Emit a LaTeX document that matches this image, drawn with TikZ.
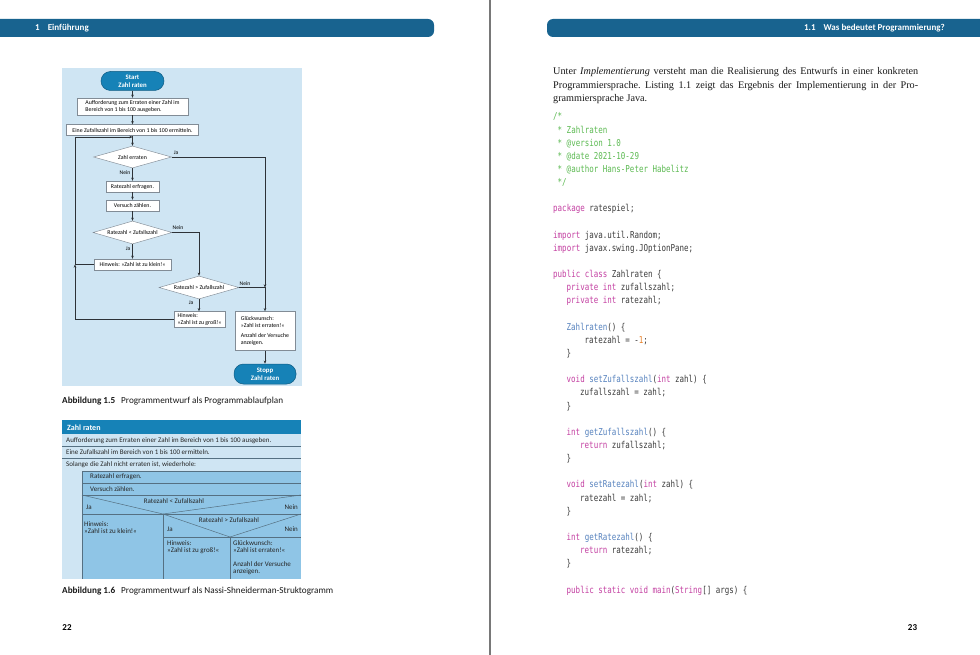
\documentclass[tikz,border=0pt]{standalone}
\usepackage{fontspec}
\setmainfont{Liberation Serif}
\newfontfamily\figfont{Carlito}
\newfontfamily\codefont[FakeStretch=0.79]{DejaVu Sans Mono}
\usetikzlibrary{shapes.geometric,arrows.meta}
\definecolor{headblue}{RGB}{24,99,143}
\definecolor{bgblue}{RGB}{207,229,243}
\definecolor{termblue}{RGB}{22,130,183}
\definecolor{termdark}{RGB}{14,92,132}
\definecolor{fcborder}{RGB}{130,140,150}
\definecolor{linecol}{RGB}{45,50,55}
\definecolor{nsmid}{RGB}{143,197,230}
\definecolor{nsline}{RGB}{85,112,130}
\definecolor{cgreen}{RGB}{92,186,82}
\definecolor{ckey}{RGB}{196,64,162}
\definecolor{cfun}{RGB}{86,130,190}
\definecolor{ctext}{RGB}{60,60,60}
\definecolor{cnum}{RGB}{232,128,40}
\definecolor{spine}{RGB}{120,120,120}
\newcommand\fcsmall{\figfont\fontsize{5.85}{7.2}\selectfont}
\newcommand\fclabel{\figfont\fontsize{5.6}{6.5}\selectfont}
\newcommand\nsfont{\figfont\fontsize{7}{7.3}\selectfont}
\newcommand\capfont{\figfont\fontsize{9.2}{11}\selectfont}
\newcommand\cKw[1]{\textcolor{ckey}{#1}}
\newcommand\cFn[1]{\textcolor{cfun}{#1}}
\newcommand\cCm[1]{\textcolor{cgreen}{#1}}
\newcommand\cNum[1]{\textcolor{cnum}{#1}}
\newcommand\codeln[3]{\node[codest] (cl#1) at (#2,{120+13.14*#1}) {#3};}
\frenchspacing
\begin{document}
\begin{tikzpicture}[x=1pt,y=-1pt,
  fcbox/.style={draw=fcborder, fill=white, line width=0.45pt, inner sep=0pt, font=\fcsmall, align=left},
  fcdia/.style={diamond, draw=fcborder, fill=white, line width=0.45pt, inner sep=0pt, font=\fcsmall, aspect=3.4},
  term/.style={draw=termdark, fill=termblue, line width=0.5pt, rounded corners=9.5pt, text=white, font=\figfont\bfseries\fontsize{6.8}{8}\selectfont, align=center, inner sep=0pt},
  lnk/.style={draw=linecol, line width=0.6pt},
  arr/.style={lnk, -{Stealth[length=3.2pt,width=2.6pt]}},
  lbl/.style={font=\fclabel, inner sep=0pt},
  nstext/.style={font=\nsfont, inner sep=0pt, text=black!85},
  nsl/.style={draw=nsline, line width=0.5pt},
  codest/.style={anchor=base west, inner sep=0pt, font=\codefont\fontsize{9.5}{10}\selectfont, text=ctext},
  paraln/.style={anchor=base west, inner sep=0pt, font=\fontsize{10.2}{12}\selectfont, text=black!90},
  headtxt/.style={text=white, inner sep=0pt, font=\figfont\bfseries\fontsize{9}{10}\selectfont},
  capt/.style={anchor=base west, inner sep=0pt, font=\capfont, text=black!90}
]
\useasboundingbox (0,0) rectangle (980,655);
\fill[white] (0,0) rectangle (980,655);
% headers
\fill[headblue, rounded corners=6pt] (-20,19) rectangle (434,37);
\fill[headblue, rounded corners=6pt] (547,19) rectangle (1000,37);
\node[headtxt, anchor=west] (h1) at (35,28) {1\hspace{8pt}Einführung};
\node[headtxt, anchor=east] (h2) at (945,28) {1.1\hspace{8pt}Was bedeutet Programmierung?};
% spine
\draw[spine, line width=1.4pt] (490,0) -- (490,655);
% page numbers
\node[anchor=base, inner sep=0pt, font=\figfont\bfseries\fontsize{9}{10}\selectfont] (pn1) at (67,630) {22};
\node[anchor=base, inner sep=0pt, font=\figfont\bfseries\fontsize{9}{10}\selectfont] (pn2) at (912.5,630) {23};

% ===== flowchart =====
\fill[bgblue] (62,68) rectangle (302,386);
\node[term, minimum width=63pt, minimum height=19pt] (start) at (132.5,81) {Start\\Zahl raten};
\node[fcbox, minimum width=111pt, minimum height=17pt] (b1) at (132.5,106.5) {Aufforderung zum Erraten einer Zahl im\\Bereich von 1 bis 100 ausgeben.};
\node[fcbox, minimum width=132pt, minimum height=11pt] (b2) at (132.5,130) {Eine Zufallszahl im Bereich von 1 bis 100 ermitteln.};
\node[fcdia, minimum width=78pt, minimum height=22pt] (d1) at (132.5,157) {Zahl erraten};
\node[fcbox, minimum width=53pt, minimum height=11pt] (b3) at (132.5,186.5) {Ratezahl erfragen.};
\node[fcbox, minimum width=53pt, minimum height=11pt] (b4) at (132.5,205.5) {Versuch zählen.};
\node[fcdia, minimum width=79pt, minimum height=23pt] (d2) at (132.5,232.5) {Ratezahl < Zufallszahl};
\node[fcbox, minimum width=77pt, minimum height=11pt] (b5) at (132.5,264.5) {Hinweis: »Zahl ist zu klein!«};
\node[fcdia, minimum width=80pt, minimum height=23pt] (d3) at (199,287.5) {Ratezahl > Zufallszahl};
\node[fcbox, minimum width=51pt, minimum height=16pt] (b6) at (199.5,319.5) {Hinweis:\\»Zahl ist zu groß!«};
\node[fcbox, minimum width=60pt, minimum height=39pt] (b7) at (265,331) {Glückwunsch:\\»Zahl ist erraten!«\\[3pt]Anzahl der Versuche\\anzeigen.};
\node[term, minimum width=62pt, minimum height=20pt] (stop) at (265,374) {Stopp\\Zahl raten};
\coordinate (J) at (132.5,137);
\coordinate (L) at (75,137);
\coordinate (R) at (265,287.5);
\draw[arr] (start) -- (b1);
\draw[arr] (b1) -- (b2);
\draw[arr] (b2) -- (d1);
\draw[arr] (d1) -- (b3);
\draw[arr] (b3) -- (b4);
\draw[arr] (b4) -- (d2);
\draw[arr] (d2) -- (b5);
\draw[arr] (d2.east) -| (d3.north);
\draw[arr] (d3) -- (b6.north -| d3);
\draw[arr] (b5.west) -- (b5.west -| L) -- (L) -- (J);
\draw[arr] (b6.west) -- (b6.west -| L) -- (b5.west -| L);
\draw[arr] (d1.east) -| (R);
\draw[arr] (d3.east) -- (R) -- (b7.north);
\draw[arr] (b7) -- (stop);
\node[lbl] (l1) at (176,153) {Ja};
\node[lbl] (l2) at (125,173) {Nein};
\node[lbl] (l3) at (178,228) {Nein};
\node[lbl] (l4) at (128,249) {Ja};
\node[lbl] (l5) at (245,284) {Nein};
\node[lbl] (l6) at (191,303) {Ja};
\node[capt] (cap1) at (62,403) {\textbf{Abbildung 1.5}\hspace{6pt}Programmentwurf als Programmablaufplan};

% ===== Nassi-Shneiderman =====
\fill[bgblue] (62,420) rectangle (301,579);
\fill[termblue] (62,420) rectangle (301,434);
\node[anchor=west, inner sep=0pt, text=white, font=\figfont\bfseries\fontsize{8}{9}\selectfont] (nsh) at (67,427.5) {Zahl raten};
\draw[nsl] (62,446) -- (301,446);
\draw[nsl] (62,458) -- (301,458);
\fill[nsmid] (82,471) rectangle (301,579);
\draw[nsl] (82,579) -- (82,471) -- (301,471);
\draw[nsl] (82,483) -- (301,483);
\draw[nsl] (82,495) -- (301,495);
\draw[nsl] (82,514) -- (301,514);
\draw[nsl] (82,495) -- (163,514) -- (301,495);
\draw[nsl] (163,514) -- (163,579);
\draw[nsl] (163,537) -- (301,537);
\draw[nsl] (163,514) -- (230,537) -- (301,514);
\draw[nsl] (230,537) -- (230,579);
\node[nstext, anchor=west] (n1) at (66,440.5) {Aufforderung zum Erraten einer Zahl im Bereich von 1 bis 100 ausgeben.};
\node[nstext, anchor=west] (n2) at (66,452.5) {Eine Zufallszahl im Bereich von 1 bis 100 ermitteln.};
\node[nstext, anchor=west] (n3) at (66,465) {Solange die Zahl nicht erraten ist, wiederhole:};
\node[nstext, anchor=west] (n4) at (90,477) {Ratezahl erfragen.};
\node[nstext, anchor=west] (n5) at (90,489) {Versuch zählen.};
\node[nstext] (n6) at (174,501) {Ratezahl < Zufallszahl};
\node[nstext, anchor=west] (n7) at (86,507) {Ja};
\node[nstext, anchor=east] (n8) at (298,507) {Nein};
\node[nstext, anchor=north west, align=left] (n9) at (84,521) {Hinweis:\\»Zahl ist zu klein!«};
\node[nstext] (n10) at (229,520) {Ratezahl > Zufallszahl};
\node[nstext, anchor=west] (n11) at (167,529) {Ja};
\node[nstext, anchor=east] (n12) at (298,529) {Nein};
\node[nstext, anchor=north west, align=left] (n13) at (167,540) {Hinweis:\\»Zahl ist zu groß!«};
\node[nstext, anchor=north west, align=left] (n14) at (233,540) {Glückwunsch:\\»Zahl ist erraten!«\\[7pt]Anzahl der Versuche\\anzeigen.};
\node[capt] (cap2) at (62,593) {\textbf{Abbildung 1.6}\hspace{6pt}Programmentwurf als Nassi-Shneiderman-Struktogramm};

% ===== right page text =====
\node[paraln] (p1) at (553,75) {\makebox[365pt][s]{Unter \textit{Implementierung} versteht man die Realisierung des Entwurfs in einer konkreten}};
\node[paraln] (p2) at (553,88.5) {\makebox[365pt][s]{Programmiersprache. Listing 1.1 zeigt das Ergebnis der Implementierung in der Pro-}};
\node[paraln] (p3) at (553,102) {grammiersprache Java.};

% ===== code =====
\codeln{0}{553}{\cCm{/*}}
\codeln{1}{557.5}{\cCm{* Zahlraten}}
\codeln{2}{557.5}{\cCm{* @version 1.0}}
\codeln{3}{557.5}{\cCm{* @date 2021-10-29}}
\codeln{4}{557.5}{\cCm{* @author Hans-Peter Habelitz}}
\codeln{5}{557.5}{\cCm{*/}}
\codeln{7}{553}{\cKw{package} ratespiel;}
\codeln{9}{553}{\cKw{import} java.util.Random;}
\codeln{10}{553}{\cKw{import} javax.swing.JOptionPane;}
\codeln{12}{553}{\cKw{public class} Zahlraten \{}
\codeln{13}{566.5}{\cKw{private int} zufallszahl;}
\codeln{14}{566.5}{\cKw{private int} ratezahl;}
\codeln{16}{566.5}{\cFn{Zahlraten}() \{}
\codeln{17}{584.5}{ratezahl = -\cNum{1};}
\codeln{18}{566.5}{\}}
\codeln{20}{566.5}{\cKw{void} \cFn{setZufallszahl}(\cKw{int} zahl) \{}
\codeln{21}{580}{zufallszahl = zahl;}
\codeln{22}{566.5}{\}}
\codeln{24}{566.5}{\cKw{int} \cFn{getZufallszahl}() \{}
\codeln{25}{580}{\cKw{return} zufallszahl;}
\codeln{26}{566.5}{\}}
\codeln{28}{566.5}{\cKw{void} \cFn{setRatezahl}(\cKw{int} zahl) \{}
\codeln{29}{580}{ratezahl = zahl;}
\codeln{30}{566.5}{\}}
\codeln{32}{566.5}{\cKw{int} \cFn{getRatezahl}() \{}
\codeln{33}{580}{\cKw{return} ratezahl;}
\codeln{34}{566.5}{\}}
\codeln{36}{566.5}{\cKw{public static void main}(\cKw{String}[] args) \{}
\end{tikzpicture}
\end{document}
